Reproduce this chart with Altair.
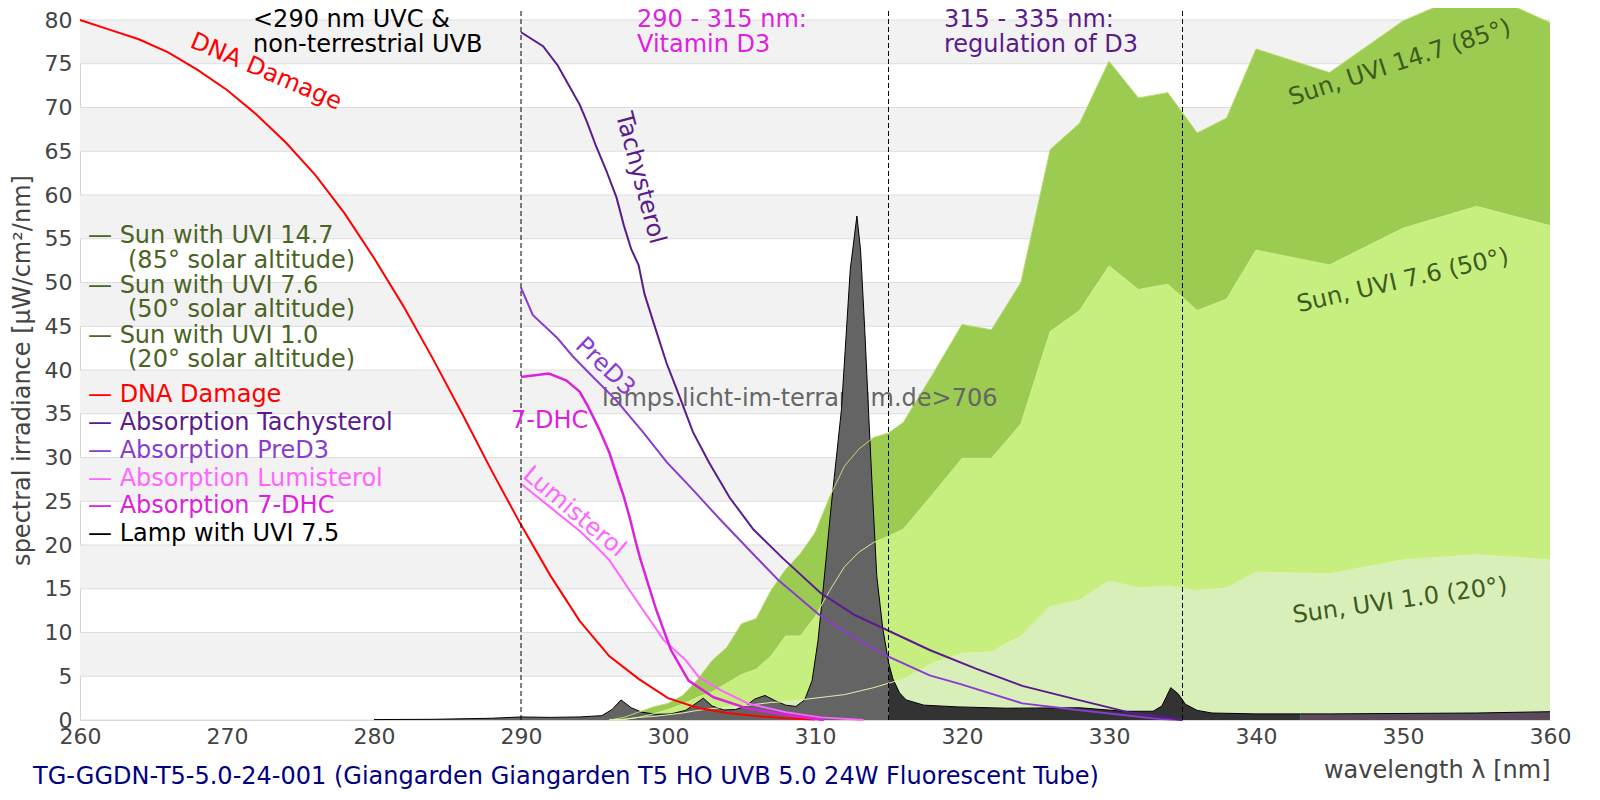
import altair as alt
import pandas as pd

FONT = "DejaVu Sans"
W, H = 1470, 700

# ---------------- data ----------------
x_ticks = list(range(260, 361, 10))
y_ticks = list(range(0, 81, 5))

dna_nm = list(range(260, 311, 2))
dna_v = [80, 78.9, 77.8, 76.3, 74.3, 72.0, 69.2, 66.0, 62.3, 57.9,
         52.8, 47.3, 41.3, 35.0, 28.5, 22.3, 16.5, 11.3, 7.3, 4.7,
         2.5, 1.4, 0.8, 0.45, 0.2, 0.05]

tachy_nm = [290, 291.5, 292.5, 293.3, 294, 294.5, 295.1, 295.8, 296.5, 297.0, 297.5, 298.0,
            298.4, 299.0, 299.9, 300.8, 301.7, 302.8, 304.2, 305.8, 307.8, 310.4, 312.7,
            315.0, 317.8, 320.9, 324.1, 327.9, 331.3, 333.6, 335]
tachy_v = [78.6, 77.0, 74.8, 72.4, 70.3, 68.3, 65.6, 62.8, 59.7, 56.5, 53.8, 52.0,
           48.7, 45.5, 40.8, 36.9, 32.9, 29.4, 25.4, 21.8, 18.5, 14.5, 12.0,
           10.2, 8.0, 5.9, 3.9, 2.3, 0.9, 0.35, 0.0]

pred3_nm = [290, 290.8, 292.5, 293.5, 294.9, 296.5, 298.3, 299.9, 301.7, 303.5, 306.0, 307.5,
            310.3, 312.7, 315.0, 317.8, 319.9, 324.1, 327.9, 331.1, 333.5, 335]
pred3_v = [49.4, 46.3, 43.6, 41.6, 39.2, 36.5, 32.9, 29.5, 26.3, 23.0, 18.6, 16.0,
           12.0, 9.4, 7.25, 5.1, 4.1, 1.9, 1.14, 0.55, 0.1, 0.0]

dhc_nm = [290, 291.9, 293.1, 294.0, 294.6, 295.3, 296.0, 296.7, 297.0, 297.4, 297.8, 298.1,
          299.2, 300.2, 301.4, 303.1, 305.5, 308.0, 310.6]
dhc_v = [39.2, 39.6, 38.8, 37.5, 35.7, 33.3, 30.6, 27.0, 25.5, 23.1, 20.4, 18.5,
         12.6, 8.0, 4.5, 2.6, 1.27, 0.6, 0.0]

lumi_nm = [290, 292, 294, 295, 296, 297.8, 299.7, 301.2, 302.1, 303.6, 305.5, 308.0, 310.4, 313.3]
lumi_v = [27.0, 24.3, 21.6, 20.0, 18.3, 13.8, 9.15, 6.85, 4.9, 3.4, 1.85, 0.9, 0.3, 0.0]

sun_nm = [296, 297, 298, 299, 300, 301, 302, 303, 304, 305, 306, 307, 308, 309, 310,
          311, 312, 313, 314, 315, 316, 318, 320, 322, 324, 326, 328, 330, 332, 334,
          336, 338, 340, 345, 350, 355, 360]
sun147 = [0.0, 0.3, 0.9, 1.5, 1.9, 2.8, 4.6, 6.8, 8.3, 11.0, 11.6, 14.8, 17.2, 19.0, 21.4,
          25.5, 29.0, 31.0, 32.3, 32.8, 34.0, 39.5, 45.2, 44.6, 50.0, 65.2, 68.2, 75.3, 71.1, 71.7,
          67.1, 68.8, 76.7, 74.0, 79.9, 83.5, 79.7]
sun76 = [0.0, 0.1, 0.3, 0.7, 1.2, 1.8, 2.6, 3.2, 4.2, 5.2, 5.8, 7.3, 9.6, 9.6, 11.8,
         14.8, 17.5, 19.2, 20.3, 21.0, 21.8, 25.8, 29.9, 29.9, 33.8, 44.4, 46.8, 51.9, 49.2, 49.8,
         46.8, 48.1, 53.7, 52.0, 56.2, 58.7, 56.5]
sun10 = [0.0, 0.05, 0.3, 0.4, 0.6, 0.8, 1.1, 1.3, 1.5, 1.6, 1.8, 2.0, 2.1, 2.3, 2.5,
         2.7, 2.9, 3.3, 3.7, 4.2, 4.7, 6.5, 7.6, 7.8, 9.6, 13.0, 13.7, 15.9, 15.1, 15.3,
         14.8, 15.1, 16.9, 16.7, 18.3, 18.9, 18.3]

lamp_nm = [280, 284, 288, 290, 292, 294, 295.5, 296.2, 296.8, 297.5, 298.2, 299.2, 300.2,
           301.2, 301.9, 302.4, 303.0, 303.8, 304.6, 305.3, 305.9, 306.6, 307.3, 308.0,
           308.7, 309.3, 309.8, 310.2, 310.5, 311.1, 311.8, 312.4, 312.85, 313.1, 313.4,
           313.65, 313.9, 314.2, 314.6, 315.0, 315.3, 315.75, 316.2, 317.4, 319.7, 323.0,
           328.0, 331.0, 333.0, 333.6, 334.2, 334.7, 335.2, 336.0, 337.0, 340.0, 343.0,
           345.0, 350.0, 355.0, 360.0]
lamp_v = [0.05, 0.08, 0.2, 0.35, 0.3, 0.35, 0.5, 1.2, 2.3, 1.4, 0.9, 0.65, 0.7,
          1.1, 1.9, 2.5, 1.6, 1.15, 1.2, 1.6, 2.4, 2.8, 2.2, 1.7,
          1.55, 2.3, 4.5, 9.0, 14.0, 24.4, 35.5, 51.5, 57.6, 53.7, 44.1,
          35.0, 26.3, 16.5, 10.6, 6.6, 4.7, 3.1, 2.3, 1.7, 1.5, 1.35,
          1.4, 1.0, 1.0, 1.6, 3.7, 3.0, 1.8, 1.1, 0.8, 0.7, 0.7,
          0.7, 0.75, 0.8, 0.95]
lamp_bounds = [315.0, 343.0]

region_lines = [290, 315, 335]

# ---------------- styles ----------------
BAND = "#F2F2F2"
GRID = "#DDDDDD"
C147, C76, C10 = "#9BCB50", "#C6EF80", "#D9EFBA"
LAMP_COLS = ["#646464", "#333333", "#5B4A5C"]
C_DNA, C_TACHY, C_PRED3, C_LUMI, C_DHC = "#FF0000", "#5A1B8C", "#8A3CCF", "#FF66FF", "#DD22DD"
C_SUNTXT, C_SUNLBL = "#4A6424", "#3F5A1F"
AX = "#444444"
FS = 24

xs = alt.Scale(domain=[260, 360], nice=False, zero=False)
ys = alt.Scale(domain=[0, 80], nice=False, zero=False)

x_axis = alt.Axis(values=x_ticks, title="wavelength λ [nm]", grid=False, ticks=False,
                  domainColor="#D5D5D5", labelFont=FONT, labelFontSize=22, labelColor=AX,
                  labelPadding=6, labelFlush=False, titleFont=FONT, titleFontSize=FS,
                  titleColor=AX, titleFontWeight="normal", titleAnchor="end",
                  titleAlign="right", titleBaseline="alphabetic", titleY=57)
y_axis = alt.Axis(values=y_ticks, title="spectral irradiance [µW/cm²/nm]", grid=False,
                  ticks=False, domainColor="#D5D5D5", labelFont=FONT, labelFontSize=22,
                  labelColor=AX, labelPadding=8, labelFlush=False, titleFont=FONT,
                  titleFontSize=FS, titleColor=AX, titleFontWeight="normal", titlePadding=10)

# ---------------- frames ----------------
band_df = pd.DataFrame({"lo": [t for t in y_ticks[1:-1:2]], "hi": [t + 5 for t in y_ticks[1:-1:2]]})
grid_df = pd.DataFrame({"v": y_ticks})

def curve(nm, v):
    return pd.DataFrame({"nm": nm, "v": v})

rows = []
for seg in range(3):
    lo = 0 if seg == 0 else lamp_bounds[seg - 1]
    hi = 1e9 if seg == 2 else lamp_bounds[seg]
    for n, v in zip(lamp_nm, lamp_v):
        if lo <= n <= hi:
            rows.append({"nm": n, "v": v, "seg": seg, "col": LAMP_COLS[seg]})
lamp_df = pd.DataFrame(rows)

# ---------------- layers ----------------
bands = alt.Chart(band_df).mark_rect(color=BAND).encode(
    x=alt.value(0), x2=alt.value(W),
    y=alt.Y("lo:Q", scale=ys, axis=y_axis), y2="hi:Q")

grid = alt.Chart(grid_df).mark_rule(color=GRID, strokeWidth=1).encode(
    x=alt.value(0), x2=alt.value(W), y=alt.Y("v:Q", scale=ys))

def sun_area(vals, color):
    return alt.Chart(curve(sun_nm, vals)).mark_area(color=color).encode(
        x=alt.X("nm:Q", scale=xs, axis=x_axis), y=alt.Y("v:Q", scale=ys, stack=None))

def sun_line(vals, color):
    return alt.Chart(curve(sun_nm, vals)).mark_line(color=color, strokeWidth=1).encode(
        x=alt.X("nm:Q", scale=xs), y=alt.Y("v:Q", scale=ys))

def line(nm, v, color, w=2):
    return alt.Chart(curve(nm, v)).mark_line(color=color, strokeWidth=w).encode(
        x=alt.X("nm:Q", scale=xs), y=alt.Y("v:Q", scale=ys))

lamp_area = alt.Chart(lamp_df).mark_area().encode(
    x=alt.X("nm:Q", scale=xs), y=alt.Y("v:Q", scale=ys, stack=None),
    color=alt.Color("col:N", scale=None), detail="seg:N")
lamp_line = alt.Chart(curve(lamp_nm, lamp_v)).mark_line(color="black", strokeWidth=1).encode(
    x=alt.X("nm:Q", scale=xs), y=alt.Y("v:Q", scale=ys))

dashes = alt.Chart(pd.DataFrame({"nm": region_lines})).mark_rule(
    color="black", strokeWidth=1, strokeDash=[5, 3]).encode(
    x=alt.X("nm:Q", scale=xs), y=alt.value(H), y2=alt.value(-12))

def txt(s, x, y, color, size=FS, angle=0, align="left", baseline="alphabetic"):
    return alt.Chart(alt.Data(values=[{}])).mark_text(
        text=s, font=FONT, fontSize=size, color=color, angle=angle, align=align,
        baseline=baseline).encode(x=alt.value(x), y=alt.value(y))

watermark = txt("lamps.licht-im-terrarium.de>706", 522, 386, "#666666")

labels = [
    txt("<290 nm UVC &", 173, 7, "black"),
    txt("non-terrestrial UVB", 173, 31.5, "black"),
    txt("290 - 315 nm:", 557, 7, C_DHC),
    txt("Vitamin D3", 557, 31.5, C_DHC),
    txt("315 - 335 nm:", 864, 7, C_TACHY),
    txt("regulation of D3", 864, 31.5, C_TACHY),
    txt("— Sun with UVI 14.7", 8, 222.7, C_SUNTXT),
    txt("(85° solar altitude)", 48, 248, C_SUNTXT),
    txt("— Sun with UVI 7.6", 8, 272.7, C_SUNTXT),
    txt("(50° solar altitude)", 48, 296.7, C_SUNTXT),
    txt("— Sun with UVI 1.0", 8, 322.7, C_SUNTXT),
    txt("(20° solar altitude)", 48, 346.7, C_SUNTXT),
    txt("— DNA Damage", 8, 381.7, C_DNA),
    txt("— Absorption Tachysterol", 8, 410, C_TACHY),
    txt("— Absorption PreD3", 8, 437.7, C_PRED3),
    txt("— Absorption Lumisterol", 8, 465.7, C_LUMI),
    txt("— Absorption 7-DHC", 8, 493.3, C_DHC),
    txt("— Lamp with UVI 7.5", 8, 521, "black"),
    txt("DNA Damage", 186, 52, C_DNA, angle=23, align="center", baseline="middle"),
    txt("Tachysterol", 560, 158, C_TACHY, angle=75, align="center", baseline="middle"),
    txt("PreD3", 525, 347, C_PRED3, angle=44, align="center", baseline="middle"),
    txt("7-DHC", 431, 408, C_DHC),
    txt("Lumisterol", 494, 492, C_LUMI, angle=40, align="center", baseline="middle"),
    txt("Sun, UVI 14.7 (85°)", 1320, 43, C_SUNLBL, angle=342, align="center", baseline="middle"),
    txt("Sun, UVI 7.6 (50°)", 1323, 261, C_SUNLBL, angle=347, align="center", baseline="middle"),
    txt("Sun, UVI 1.0 (20°)", 1320, 581, C_SUNLBL, angle=352, align="center", baseline="middle"),
    txt("TG-GGDN-T5-5.0-24-001 (Giangarden Giangarden T5 HO UVB 5.0 24W Fluorescent Tube)",
        -47, 764, "#000080"),
]

chart = alt.layer(
    bands, grid,
    sun_area(sun147, C147), sun_area(sun76, C76), sun_area(sun10, C10),
    watermark,
    lamp_area, lamp_line,
    sun_line(sun147, "#B9DC70"), sun_line(sun76, "#D2F090"), sun_line(sun10, "#E0F2B0"),
    line(dna_nm, dna_v, C_DNA),
    line(lumi_nm, lumi_v, C_LUMI),
    line(dhc_nm, dhc_v, C_DHC, 2.5),
    line(pred3_nm, pred3_v, C_PRED3),
    line(tachy_nm, tachy_v, C_TACHY),
    dashes,
    *labels,
).properties(
    width=W, height=H,
    autosize=alt.AutoSizeParams(type="none"),
    padding={"left": 72, "top": 12, "right": 40, "bottom": 80},
).configure_view(stroke=None)

chart.save("out.html", embed_options={"renderer": "svg", "actions": False})
